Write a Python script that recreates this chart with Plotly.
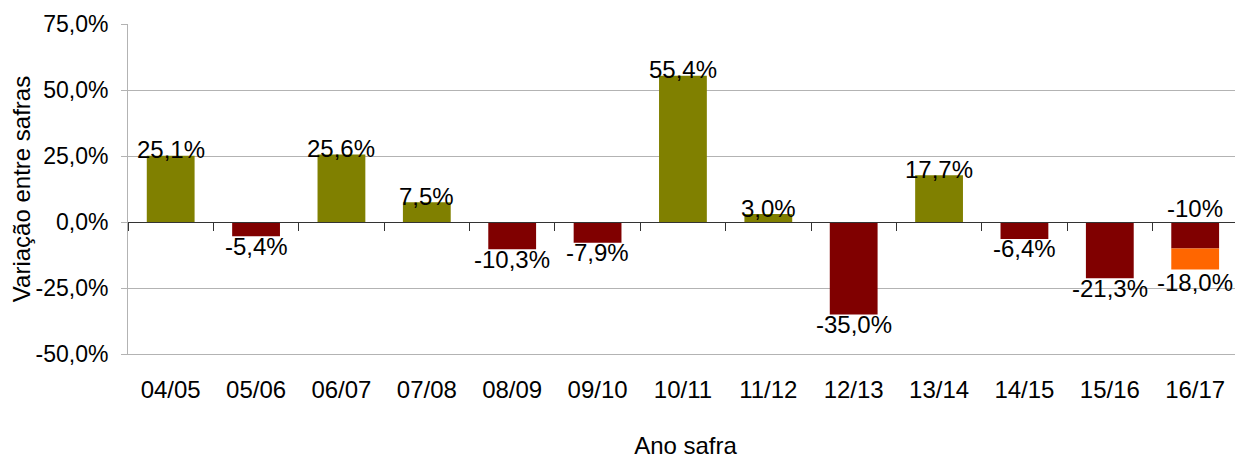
import plotly.graph_objects as go

categories = ["04/05", "05/06", "06/07", "07/08", "08/09", "09/10", "10/11",
              "11/12", "12/13", "13/14", "14/15", "15/16", "16/17"]
variation = [25.1, -5.4, 25.6, 7.5, -10.3, -7.9, 55.4, 3.0, -35.0, 17.7, -6.4, -21.3, -10.0]
labels = ["25,1%", "-5,4%", "25,6%", "7,5%", "-10,3%", "-7,9%", "55,4%", "3,0%",
          "-35,0%", "17,7%", "-6,4%", "-21,3%", "-10%"]
extra_last = -8.0          # additional drop for 16/17 (from -10% to -18%)
extra_label = "-18,0%"
y_ticks = [-50, -25, 0, 25, 50, 75]
y_tick_text = ["-50,0%", "-25,0%", "0,0%", "25,0%", "50,0%", "75,0%"]

OLIVE = "#808000"
DARKRED = "#800000"
ORANGE = "#FF6600"
FONT = "Liberation Sans, Arial, sans-serif"
FS = 24

colors = [OLIVE if v >= 0 else DARKRED for v in variation]
x_range = [-0.5, len(categories) - 0.44]

fig = go.Figure()
fig.add_trace(go.Bar(x=categories, y=variation, marker_color=colors,
                     marker_line_width=0, showlegend=False, hoverinfo="skip"))
extra = [None] * (len(categories) - 1) + [extra_last]
fig.add_trace(go.Bar(x=categories, y=extra, marker_color=ORANGE,
                     marker_line_width=0, showlegend=False, hoverinfo="skip"))

annotations = []
for i, (c, v, t) in enumerate(zip(categories, variation, labels)):
    if i == len(categories) - 1:
        annotations.append(dict(x=c, y=0, text=t, showarrow=False, yanchor="middle", yshift=14))
    elif v >= 0:
        annotations.append(dict(x=c, y=v, text=t, showarrow=False, yanchor="middle", yshift=6))
    else:
        annotations.append(dict(x=c, y=v, text=t, showarrow=False, yanchor="middle", yshift=-10))
annotations.append(dict(x=categories[-1], y=variation[-1] + extra_last, text=extra_label,
                        showarrow=False, yanchor="middle", yshift=-13))
for a in annotations:
    a["font"] = dict(family=FONT, size=FS, color="black")
    a["xref"] = "x"
    a["yref"] = "y"

# page body has an 8px default margin, so the figure is sized/offset to compensate
fig.update_layout(
    barmode="relative",
    bargap=0.44,
    width=1235, height=451,
    margin=dict(l=120, r=0, t=16, b=105),
    paper_bgcolor="white", plot_bgcolor="white",
    font=dict(family=FONT, size=FS, color="black"),
    annotations=annotations,
    xaxis=dict(
        type="category", categoryorder="array", categoryarray=categories,
        range=x_range, autorange=False,
        showgrid=False, showline=True, linecolor="#b3b3b3", linewidth=1,
        mirror=False, ticks="", ticklabelstandoff=14, automargin=False,
        tickfont=dict(family=FONT, size=FS, color="black"),
        title=dict(text="Ano safra", font=dict(family=FONT, size=FS, color="black"), standoff=41),
    ),
    xaxis2=dict(
        type="category", categoryorder="array", categoryarray=categories,
        range=x_range, autorange=False,
        overlaying="x", anchor="free", position=0.4, side="bottom",
        showgrid=False, showline=True, linecolor="#333333", linewidth=1,
        ticks="outside", tickson="boundaries", ticklen=8, tickcolor="#333333",
        showticklabels=False, automargin=False,
    ),
    yaxis=dict(
        range=[-50, 75], tickvals=y_ticks, ticktext=y_tick_text,
        showgrid=True, gridcolor="#b3b3b3", gridwidth=1, zeroline=False,
        showline=True, linecolor="#b3b3b3", linewidth=1, automargin=False,
        ticks="outside", ticklen=6, tickcolor="#b3b3b3", ticklabelstandoff=8,
        tickfont=dict(family=FONT, size=23, color="black"),
        title=dict(text="Variação entre safras", font=dict(family=FONT, size=FS, color="black"), standoff=0),
    ),
)
# invisible trace on xaxis2 so the zero-line axis renders
fig.add_trace(go.Scatter(x=categories, y=[None] * len(categories), xaxis="x2",
                         showlegend=False, hoverinfo="skip", mode="lines"))

fig.write_html("out.html")
